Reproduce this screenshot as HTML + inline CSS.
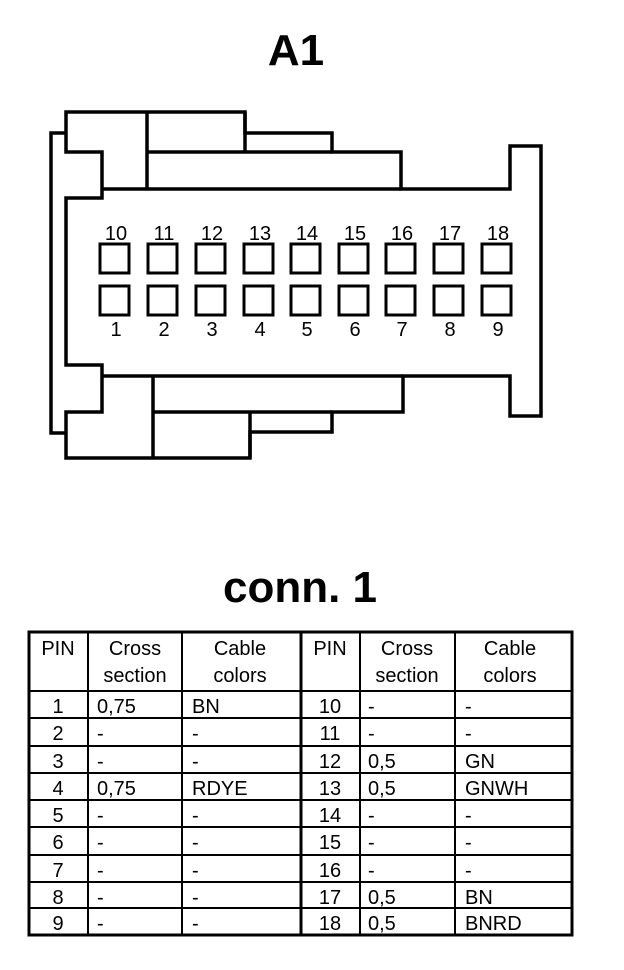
<!DOCTYPE html>
<html><head><meta charset="utf-8"><style>
html,body{margin:0;padding:0;background:#fff;}
svg{display:block;}
text{font-family:"Liberation Sans",Arial,sans-serif;fill:#000;}
</style></head><body>
<svg width="624" height="970" viewBox="0 0 624 970" xmlns="http://www.w3.org/2000/svg">
<text x="296" y="65" font-size="44" font-weight="bold" text-anchor="middle">A1</text>
<g fill="none" stroke="#000" stroke-width="3.5" stroke-linejoin="miter">
<path d="M66,112 H245 V133 H332 V152 H401 V189 H510 V146 H541 V416 H510 V376 H403 V412 H332 V432 H250 V458 H66 V412 H102 V365 H66 V198 H102 V152 H66 Z"/>
<path d="M66,133 H51 V433 H66"/>
<path d="M102,189 H401"/>
<path d="M102,376 H403"/>
<path d="M147,112 V189"/>
<path d="M147,152 H332"/>
<path d="M245,112 V152"/>
<path d="M153,376 V458"/>
<path d="M153,412 H332"/>
<path d="M250,412 V458"/>
</g>
<g fill="none" stroke="#000" stroke-width="3">
<rect x="100" y="244" width="29" height="29"/><rect x="148" y="244" width="29" height="29"/><rect x="196" y="244" width="29" height="29"/><rect x="244" y="244" width="29" height="29"/><rect x="291" y="244" width="29" height="29"/><rect x="339" y="244" width="29" height="29"/><rect x="386" y="244" width="29" height="29"/><rect x="434" y="244" width="29" height="29"/><rect x="482" y="244" width="29" height="29"/>
<rect x="100" y="286" width="29" height="29"/><rect x="148" y="286" width="29" height="29"/><rect x="196" y="286" width="29" height="29"/><rect x="244" y="286" width="29" height="29"/><rect x="291" y="286" width="29" height="29"/><rect x="339" y="286" width="29" height="29"/><rect x="386" y="286" width="29" height="29"/><rect x="434" y="286" width="29" height="29"/><rect x="482" y="286" width="29" height="29"/>
</g>
<g font-size="20" text-anchor="middle">
<text x="116" y="240">10</text><text x="164" y="240">11</text><text x="212" y="240">12</text><text x="260" y="240">13</text><text x="307" y="240">14</text><text x="355" y="240">15</text><text x="402" y="240">16</text><text x="450" y="240">17</text><text x="498" y="240">18</text>
<text x="116" y="336">1</text><text x="164" y="336">2</text><text x="212" y="336">3</text><text x="260" y="336">4</text><text x="307" y="336">5</text><text x="355" y="336">6</text><text x="402" y="336">7</text><text x="450" y="336">8</text><text x="498" y="336">9</text>
</g>
<text x="300" y="602" font-size="44" font-weight="bold" text-anchor="middle">conn. 1</text>
<g stroke="#000" fill="none">
<rect x="29" y="632" width="543" height="303" stroke-width="3"/>
<g stroke-width="2">
<path d="M88,632 V935 M182,632 V935 M360,632 V935 M455,632 V935"/>
<path d="M29,691 H572 M29,718 H572 M29,746 H572 M29,773 H572 M29,800 H572 M29,827 H572 M29,855 H572 M29,882 H572 M29,908 H572"/>
</g>
<path d="M301,632 V935" stroke-width="3"/>
</g>
<g font-size="20">
<g text-anchor="middle">
<text x="58" y="655">PIN</text><text x="135" y="655">Cross</text><text x="135" y="682">section</text><text x="240" y="655">Cable</text><text x="240" y="682">colors</text>
<text x="330" y="655">PIN</text><text x="407" y="655">Cross</text><text x="407" y="682">section</text><text x="510" y="655">Cable</text><text x="510" y="682">colors</text>
<text x="58" y="713">1</text><text x="58" y="740">2</text><text x="58" y="768">3</text><text x="58" y="795">4</text><text x="58" y="822">5</text><text x="58" y="849">6</text><text x="58" y="877">7</text><text x="58" y="904">8</text><text x="58" y="930">9</text>
<text x="330" y="713">10</text><text x="330" y="740">11</text><text x="330" y="768">12</text><text x="330" y="795">13</text><text x="330" y="822">14</text><text x="330" y="849">15</text><text x="330" y="877">16</text><text x="330" y="904">17</text><text x="330" y="930">18</text>
</g>
<text x="97" y="713">0,75</text><text x="192" y="713">BN</text>
<text x="97" y="740">-</text><text x="192" y="740">-</text>
<text x="97" y="768">-</text><text x="192" y="768">-</text>
<text x="97" y="795">0,75</text><text x="192" y="795">RDYE</text>
<text x="97" y="822">-</text><text x="192" y="822">-</text>
<text x="97" y="849">-</text><text x="192" y="849">-</text>
<text x="97" y="877">-</text><text x="192" y="877">-</text>
<text x="97" y="904">-</text><text x="192" y="904">-</text>
<text x="97" y="930">-</text><text x="192" y="930">-</text>
<text x="368" y="713">-</text><text x="465" y="713">-</text>
<text x="368" y="740">-</text><text x="465" y="740">-</text>
<text x="368" y="768">0,5</text><text x="465" y="768">GN</text>
<text x="368" y="795">0,5</text><text x="465" y="795">GNWH</text>
<text x="368" y="822">-</text><text x="465" y="822">-</text>
<text x="368" y="849">-</text><text x="465" y="849">-</text>
<text x="368" y="877">-</text><text x="465" y="877">-</text>
<text x="368" y="904">0,5</text><text x="465" y="904">BN</text>
<text x="368" y="930">0,5</text><text x="465" y="930">BNRD</text>
</g>
</svg>
</body></html>
